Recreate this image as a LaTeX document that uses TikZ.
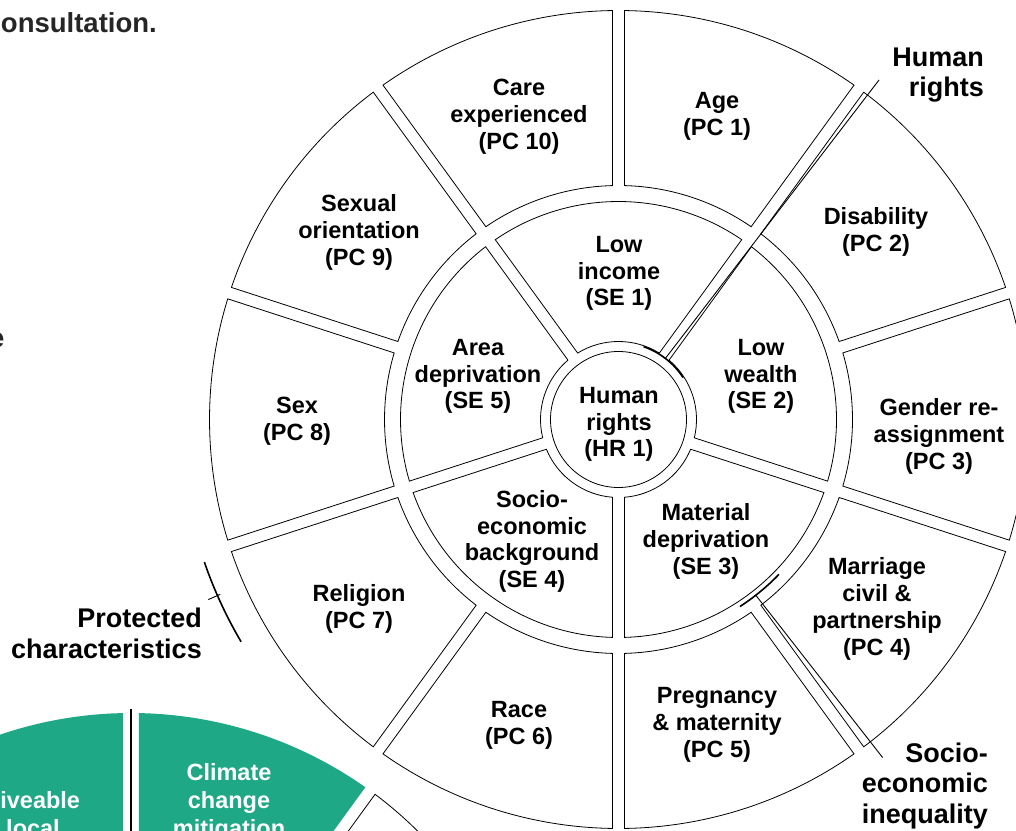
\documentclass[tikz,border=0pt]{standalone}
\usepackage{fontspec}
\setmainfont{Liberation Sans}
\usetikzlibrary{calc}
\definecolor{wheelgreen}{RGB}{30,168,133}
\definecolor{headgray}{RGB}{38,38,38}
% ring segment with parallel-sided gaps: center, r_in, r_out, a1, a2, halfgap1, halfgap2, style
\newcommand\ringseg[8]{%
  \pgfmathsetmacro\rsAo{asin(#6/#3)}%
  \pgfmathsetmacro\rsAi{asin(#6/#2)}%
  \pgfmathsetmacro\rsBo{asin(#7/#3)}%
  \pgfmathsetmacro\rsBi{asin(#7/#2)}%
  \path[#8,shift={(#1)}] ({#4+\rsAo}:#3) arc[start angle={#4+\rsAo}, end angle={#5-\rsBo}, radius=#3]
    -- ({#5-\rsBi}:#2) arc[start angle={#5-\rsBi}, end angle={#4+\rsAi}, radius=#2] -- cycle;%
}
\tikzset{
  segline/.style={draw=black, line width=0.8pt, fill=white},
  greenseg/.style={fill=wheelgreen, draw=none},
  lbl/.style={align=center, font=\bfseries\fontsize{23.5}{26.8}\selectfont, text=black, inner sep=0pt, yshift=-2.5pt},
  wlbl/.style={align=center, text=white, inner sep=0pt, font=\bfseries\fontsize{23.5}{28}\selectfont},
  biglbl/.style={align=right, font=\bfseries\fontsize{27}{30.5}\selectfont, text=black, inner sep=0pt},
  headtxt/.style={font=\bfseries\fontsize{27.5}{33}\selectfont, text=headgray, inner sep=0pt},
  bracket/.style={line width=1.6pt},
  leader/.style={line width=0.9pt}
}
\begin{document}
\begin{tikzpicture}[x=1pt,y=1pt]
\useasboundingbox (0,0) rectangle (1016,830);
\clip (0,0) rectangle (1016,830);
\coordinate (c1) at (618.5,410.5);
\coordinate (c2) at (131,-290);

% lower-left wheel (partly visible)
\ringseg{c2}{234}{407}{90}{126}{8}{6}{greenseg}
\ringseg{c2}{234}{407}{54}{90}{6}{8}{greenseg}
\ringseg{c2}{234}{407}{18}{54}{6}{6}{segline}
\coordinate (g1) at ($(c2)+(90:411)$);
\coordinate (g2) at ($(c2)+(90:240)$);
\draw[line width=1.4pt] (g1) -- (g2);

% main wheel
\foreach \a in {-90,-54,...,234} {\ringseg{c1}{234}{409}{\a}{\a+36}{6}{6}{segline}}
\foreach \a in {-90,-18,54,126,198} {\ringseg{c1}{78}{218}{\a}{\a+72}{6}{6}{segline}}
\draw[segline] (c1) circle[radius=68];

% brackets and leaders
\draw[bracket] ($(c1)+(33:77)$) arc[start angle=33,end angle=71,radius=77];
\coordinate (hrA) at ($(c1)+(52.5:77)$);
\coordinate (hrB) at ($(c1)+(52.5:428)$);
\draw[leader] (hrA) -- (hrB);
\draw[bracket] ($(c1)+(-57:223)$) arc[start angle=-57,end angle=-44,radius=223];
\coordinate (seA) at ($(c1)+(-52:223)$);
\coordinate (seB) at ($(c1)+(-52:429)$);
\draw[leader] (seA) -- (seB);
\draw[bracket] ($(c1)+(199:438)$) arc[start angle=199,end angle=210.5,radius=438];
\coordinate (pcA) at ($(c1)+(203.7:435)$);
\coordinate (pcB) at ($(c1)+(203.7:448)$);
\draw[leader] (pcA) -- (pcB);

% labels: protected characteristics
\node[lbl] (pc1) at (717,716.5) {Age\\(PC 1)};
\node[lbl] (pc2) at (876,600.5) {Disability\\(PC 2)};
\node[lbl] (pc3) at (939,396) {Gender re-\\assignment\\(PC 3)};
\node[lbl] (pc4) at (877,223.5) {Marriage\\civil \&\\partnership\\(PC 4)};
\node[lbl] (pc5) at (717,107.5) {Pregnancy\\\& maternity\\(PC 5)};
\node[lbl] (pc6) at (519,107.5) {Race\\(PC 6)};
\node[lbl] (pc7) at (359,223.5) {Religion\\(PC 7)};
\node[lbl] (pc8) at (297,411) {Sex\\(PC 8)};
\node[lbl] (pc9) at (359,600) {Sexual\\orientation\\(PC 9)};
\node[lbl] (pc10) at (519,716) {Care\\experienced\\(PC 10)};
% socio-economic
\node[lbl] (se1) at (619,559) {Low\\income\\(SE 1)};
\node[lbl] (se2) at (761,456) {Low\\wealth\\(SE 2)};
\node[lbl] (se3) at (706,291) {Material\\deprivation\\(SE 3)};
\node[lbl] (se4) at (532,291) {Socio-\\economic\\background\\(SE 4)};
\node[lbl] (se5) at (478,456) {Area\\deprivation\\(SE 5)};
\node[lbl] (hr1) at (619,408) {Human\\rights\\(HR 1)};

% group labels
\node[biglbl, anchor=east] (ghr) at (984,755) {Human\\rights};
\node[biglbl, anchor=east] (gpc) at (202,196.5) {Protected\\characteristics};
\node[biglbl, anchor=east] (gse) at (988,44) {Socio-\\economic\\inequality};

% lower-left wheel labels
\node[wlbl, anchor=north] (ccm) at (229,67) {Climate\\change\\mitigation};
\node[wlbl, anchor=north] (llo) at (33,39) {Liveable\\local};

% page text fragments
\node[headtxt, anchor=base east] (head) at (157,797.3) {consultation.};
\node[headtxt, anchor=base east] (frag) at (4.5,482) {e};
\end{tikzpicture}
\end{document}
